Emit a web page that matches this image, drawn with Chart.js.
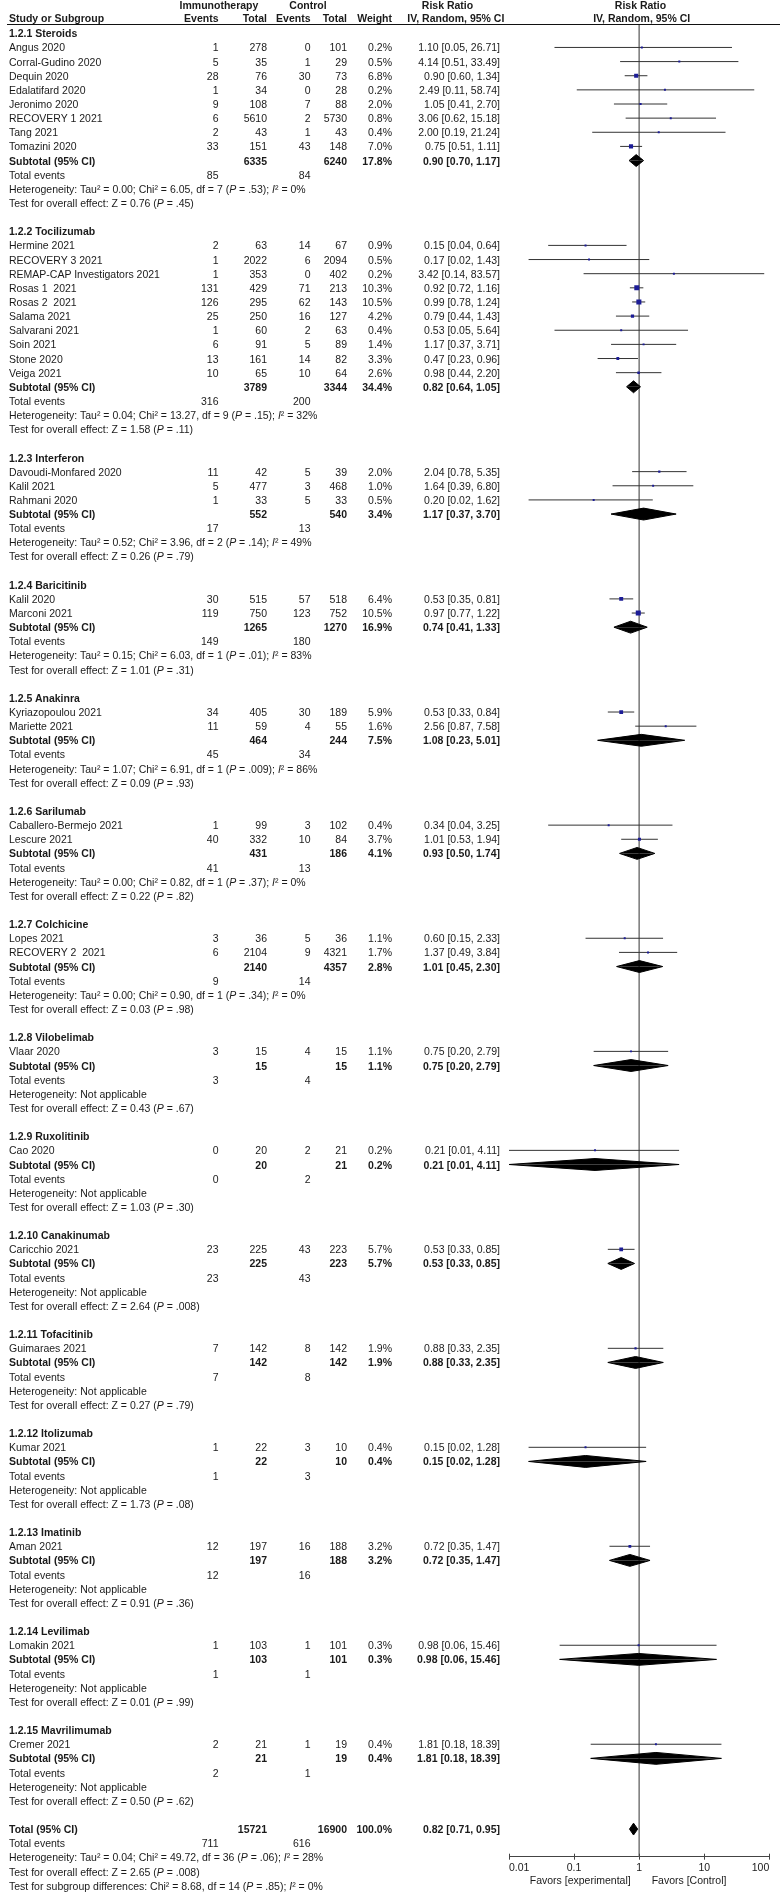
<!DOCTYPE html>
<html>
<head>
<meta charset="utf-8">
<script src="https://cdn.jsdelivr.net/npm/chart.js@4.4.1/dist/chart.umd.min.js"></script>
<style>
  body { margin: 0; background: #fff; }
  #wrap { position: relative; width: 780px; height: 1897px; overflow: hidden; }
  #plot { position: absolute; left: 0; top: 0; }
  .t { position: absolute; font: 10.5px/14px "Liberation Sans", Arial, sans-serif; color: #1a1a1a; white-space: pre; }
  .b { font-weight: bold; }
  #rule { position: absolute; left: 7px; top: 24px; width: 773px; height: 1px; background: #111; }
</style>
</head>
<body>
<div id="wrap">
  <canvas id="plot" width="780" height="1897"></canvas>
  <div id="rule"></div>
</div>
<script>
// groups
var groupNames = ['1.2.1 Steroids', '1.2.2 Tocilizumab', '1.2.3 Interferon', '1.2.4 Baricitinib', '1.2.5 Anakinra',
  '1.2.6 Sarilumab', '1.2.7 Colchicine', '1.2.8 Vilobelimab', '1.2.9 Ruxolitinib', '1.2.10 Canakinumab',
  '1.2.11 Tofacitinib', '1.2.12 Itolizumab', '1.2.13 Imatinib', '1.2.14 Levilimab', '1.2.15 Mavrilimumab'];

// studies
var studyNames = ['Angus 2020', 'Corral-Gudino 2020', 'Dequin 2020', 'Edalatifard 2020', 'Jeronimo 2020', 'RECOVERY 1 2021', 'Tang 2021', 'Tomazini 2020',
  'Hermine 2021', 'RECOVERY 3 2021', 'REMAP-CAP Investigators 2021', 'Rosas 1  2021', 'Rosas 2  2021', 'Salama 2021', 'Salvarani 2021', 'Soin 2021', 'Stone 2020', 'Veiga 2021',
  'Davoudi-Monfared 2020', 'Kalil 2021', 'Rahmani 2020',
  'Kalil 2020', 'Marconi 2021',
  'Kyriazopoulou 2021', 'Mariette 2021',
  'Caballero-Bermejo 2021', 'Lescure 2021',
  'Lopes 2021', 'RECOVERY 2  2021',
  'Vlaar 2020', 'Cao 2020', 'Caricchio 2021', 'Guimaraes 2021', 'Kumar 2021', 'Aman 2021', 'Lomakin 2021', 'Cremer 2021'];
var studyGroup = [0, 0, 0, 0, 0, 0, 0, 0, 1, 1, 1, 1, 1, 1, 1, 1, 1, 1, 2, 2, 2, 3, 3, 4, 4, 5, 5, 6, 6, 7, 8, 9, 10, 11, 12, 13, 14];
var expEvents = [1, 5, 28, 1, 9, 6, 2, 33, 2, 1, 1, 131, 126, 25, 1, 6, 13, 10, 11, 5, 1, 30, 119, 34, 11, 1, 40, 3, 6, 3, 0, 23, 7, 1, 12, 1, 2];
var expTotal = [278, 35, 76, 34, 108, 5610, 43, 151, 63, 2022, 353, 429, 295, 250, 60, 91, 161, 65, 42, 477, 33, 515, 750, 405, 59, 99, 332, 36, 2104, 15, 20, 225, 142, 22, 197, 103, 21];
var ctlEvents = [0, 1, 30, 0, 7, 2, 1, 43, 14, 6, 0, 71, 62, 16, 2, 5, 14, 10, 5, 3, 5, 57, 123, 30, 4, 3, 10, 5, 9, 4, 2, 43, 8, 3, 16, 1, 1];
var ctlTotal = [101, 29, 73, 28, 88, 5730, 43, 148, 67, 2094, 402, 213, 143, 127, 63, 89, 82, 64, 39, 468, 33, 518, 752, 189, 55, 102, 84, 36, 4321, 15, 21, 223, 142, 10, 188, 101, 19];
var weights = [0.2, 0.5, 6.8, 0.2, 2.0, 0.8, 0.4, 7.0, 0.9, 0.5, 0.2, 10.3, 10.5, 4.2, 0.4, 1.4, 3.3, 2.6, 2.0, 1.0, 0.5, 6.4, 10.5, 5.9, 1.6, 0.4, 3.7, 1.1, 1.7, 1.1, 0.2, 5.7, 1.9, 0.4, 3.2, 0.3, 0.4];
var rr = [1.10, 4.14, 0.90, 2.49, 1.05, 3.06, 2.00, 0.75, 0.15, 0.17, 3.42, 0.92, 0.99, 0.79, 0.53, 1.17, 0.47, 0.98, 2.04, 1.64, 0.20, 0.53, 0.97, 0.53, 2.56, 0.34, 1.01, 0.60, 1.37, 0.75, 0.21, 0.53, 0.88, 0.15, 0.72, 0.98, 1.81];
var rrLow = [0.05, 0.51, 0.60, 0.11, 0.41, 0.62, 0.19, 0.51, 0.04, 0.02, 0.14, 0.72, 0.78, 0.44, 0.05, 0.37, 0.23, 0.44, 0.78, 0.39, 0.02, 0.35, 0.77, 0.33, 0.87, 0.04, 0.53, 0.15, 0.49, 0.20, 0.01, 0.33, 0.33, 0.02, 0.35, 0.06, 0.18];
var rrHigh = [26.71, 33.49, 1.34, 58.74, 2.70, 15.18, 21.24, 1.11, 0.64, 1.43, 83.57, 1.16, 1.24, 1.43, 5.64, 3.71, 0.96, 2.20, 5.35, 6.80, 1.62, 0.81, 1.22, 0.84, 7.58, 3.25, 1.94, 2.33, 3.84, 2.79, 4.11, 0.85, 2.35, 1.28, 1.47, 15.46, 18.39];

// subtotals
var subExpTotal = [6335, 3789, 552, 1265, 464, 431, 2140, 15, 20, 225, 142, 22, 197, 103, 21];
var subCtlTotal = [6240, 3344, 540, 1270, 244, 186, 4357, 15, 21, 223, 142, 10, 188, 101, 19];
var subWeight = [17.8, 34.4, 3.4, 16.9, 7.5, 4.1, 2.8, 1.1, 0.2, 5.7, 1.9, 0.4, 3.2, 0.3, 0.4];
var subRR = [0.90, 0.82, 1.17, 0.74, 1.08, 0.93, 1.01, 0.75, 0.21, 0.53, 0.88, 0.15, 0.72, 0.98, 1.81];
var subLow = [0.70, 0.64, 0.37, 0.41, 0.23, 0.50, 0.45, 0.20, 0.01, 0.33, 0.33, 0.02, 0.35, 0.06, 0.18];
var subHigh = [1.17, 1.05, 3.70, 1.33, 5.01, 1.74, 2.30, 2.79, 4.11, 0.85, 2.35, 1.28, 1.47, 15.46, 18.39];
var subExpEvents = [85, 316, 17, 149, 45, 41, 9, 3, 0, 23, 7, 1, 12, 1, 2];
var subCtlEvents = [84, 200, 13, 180, 34, 13, 14, 4, 2, 43, 8, 3, 16, 1, 1];
var hetTau2 = [0.00, 0.04, 0.52, 0.15, 1.07, 0.00, 0.00, null, null, null, null, null, null, null, null];
var hetChi2 = [6.05, 13.27, 3.96, 6.03, 6.91, 0.82, 0.90];
var hetDf = [7, 9, 2, 1, 1, 1, 1];
var hetP = ['.53', '.15', '.14', '.01', '.009', '.37', '.34'];
var hetI2 = [0, 32, 49, 83, 86, 0, 0];
var zValue = [0.76, 1.58, 0.26, 1.01, 0.09, 0.22, 0.03, 0.43, 1.03, 2.64, 0.27, 1.73, 0.91, 0.01, 0.50];
var zP = ['.45', '.11', '.79', '.31', '.93', '.82', '.98', '.67', '.30', '.008', '.79', '.08', '.36', '.99', '.62'];

// overall
var totalExp = 15721, totalCtl = 16900, totalRR = 0.82, totalLow = 0.71, totalHigh = 0.95;
var totalExpEvents = 711, totalCtlEvents = 616;
var overallHet = 'Heterogeneity: Tau² = 0.04; Chi² = 49.72, df = 36 (<i>P</i> = .06); <i>I</i>² = 28%';
var overallZ = 'Test for overall effect: Z = 2.65 (<i>P</i> = .008)';
var subgroupDiff = 'Test for subgroup differences: Chi² = 8.68, df = 14 (<i>P</i> = .85); <i>I</i>² = 0%';

var xTicks = [0.01, 0.1, 1, 10, 100];

// layout
var TOP = 33.3, PITCH = 14.14;
var YMIN = (25 - TOP) / PITCH, YMAX = (1856.7 - TOP) / PITCH;
var col = { name: 9, expEv: 218.5, expTot: 267, ctlEv: 310.5, ctlTot: 347, weight: 392, ci: 500 };
var wrap = document.getElementById('wrap');

function put(x, y, html, align, bold) {
  var el = document.createElement('div');
  el.className = 't' + (bold ? ' b' : '');
  el.innerHTML = html;
  el.style.top = (y - 7) + 'px';
  if (align === 'r') el.style.right = (780 - x) + 'px';
  else if (align === 'c') { el.style.left = x + 'px'; el.style.transform = 'translateX(-50%)'; }
  else el.style.left = x + 'px';
  wrap.appendChild(el);
}
function ciText(a, l, h) { return a.toFixed(2) + ' [' + l.toFixed(2) + ', ' + h.toFixed(2) + ']'; }
function rowY(k) { return TOP + k * PITCH; }

// header
put(219, 5, 'Immunotherapy', 'c', true);
put(308, 5, 'Control', 'c', true);
put(447.5, 5, 'Risk Ratio', 'c', true);
put(640.5, 5, 'Risk Ratio', 'c', true);
put(col.name, 18.3, 'Study or Subgroup', 'l', true);
put(col.expEv, 18.3, 'Events', 'r', true);
put(col.expTot, 18.3, 'Total', 'r', true);
put(col.ctlEv, 18.3, 'Events', 'r', true);
put(col.ctlTot, 18.3, 'Total', 'r', true);
put(col.weight, 18.3, 'Weight', 'r', true);
put(455.8, 18.3, 'IV, Random, 95% CI', 'c', true);
put(641.7, 18.3, 'IV, Random, 95% CI', 'c', true);

var ciData = [], ptData = [], ptRadius = [], diamondSets = [];
var DH = 0.42;
function addDiamond(m, l, h, k) {
  [-DH, DH].forEach(function (d) {
    diamondSets.push({
      type: 'line', data: [{ x: l, y: k }, { x: m, y: k + d }, { x: h, y: k }],
      borderColor: '#000', borderWidth: 1, backgroundColor: '#000', fill: { value: k },
      pointRadius: 0, tension: 0, order: 1
    });
  });
}

var k = 0;
groupNames.forEach(function (g, gi) {
  put(col.name, rowY(k), g, 'l', true);
  k++;
  studyNames.forEach(function (s, i) {
    if (studyGroup[i] !== gi) return;
    var y = rowY(k);
    put(col.name, y, s, 'l');
    put(col.expEv, y, String(expEvents[i]), 'r');
    put(col.expTot, y, String(expTotal[i]), 'r');
    put(col.ctlEv, y, String(ctlEvents[i]), 'r');
    put(col.ctlTot, y, String(ctlTotal[i]), 'r');
    put(col.weight, y, weights[i].toFixed(1) + '%', 'r');
    put(col.ci, y, ciText(rr[i], rrLow[i], rrHigh[i]), 'r');
    ciData.push({ x: rrLow[i], y: k }, { x: rrHigh[i], y: k }, { x: rrHigh[i], y: null });
    ptData.push({ x: rr[i], y: k });
    ptRadius.push(Math.max(1.4, 1.1 * Math.sqrt(weights[i])));
    k++;
  });
  var y = rowY(k);
  put(col.name, y, 'Subtotal (95% CI)', 'l', true);
  put(col.expTot, y, String(subExpTotal[gi]), 'r', true);
  put(col.ctlTot, y, String(subCtlTotal[gi]), 'r', true);
  put(col.weight, y, subWeight[gi].toFixed(1) + '%', 'r', true);
  put(col.ci, y, ciText(subRR[gi], subLow[gi], subHigh[gi]), 'r', true);
  addDiamond(subRR[gi], subLow[gi], subHigh[gi], k);
  k++;
  y = rowY(k);
  put(col.name, y, 'Total events', 'l');
  put(col.expEv, y, String(subExpEvents[gi]), 'r');
  put(col.ctlEv, y, String(subCtlEvents[gi]), 'r');
  k++;
  var het = hetTau2[gi] === null ? 'Heterogeneity: Not applicable' :
    'Heterogeneity: Tau² = ' + hetTau2[gi].toFixed(2) + '; Chi² = ' + hetChi2[gi].toFixed(2) + ', df = ' + hetDf[gi] +
    ' (<i>P</i> = ' + hetP[gi] + '); <i>I</i>² = ' + hetI2[gi] + '%';
  put(col.name, rowY(k), het, 'l');
  k++;
  put(col.name, rowY(k), 'Test for overall effect: Z = ' + zValue[gi].toFixed(2) + ' (<i>P</i> = ' + zP[gi] + ')', 'l');
  k += 2;
});

var y = rowY(k);
put(col.name, y, 'Total (95% CI)', 'l', true);
put(col.expTot, y, String(totalExp), 'r', true);
put(col.ctlTot, y, String(totalCtl), 'r', true);
put(col.weight, y, '100.0%', 'r', true);
put(col.ci, y, ciText(totalRR, totalLow, totalHigh), 'r', true);
addDiamond(totalRR, totalLow, totalHigh, k);
k++;
y = rowY(k);
put(col.name, y, 'Total events', 'l');
put(col.expEv, y, String(totalExpEvents), 'r');
put(col.ctlEv, y, String(totalCtlEvents), 'r');
put(col.name, rowY(k + 1), overallHet, 'l');
put(col.name, rowY(k + 2), overallZ, 'l');
put(col.name, rowY(k + 3), subgroupDiff, 'l');
put(630.7, 1879.5, 'Favors [experimental]', 'r');
put(651.7, 1879.5, 'Favors [Control]', 'l');

// small ticks above the axis line
var upTicks = {
  id: 'upTicks',
  afterDraw: function (chart) {
    var s = chart.scales.x, ctx = chart.ctx;
    ctx.save();
    ctx.strokeStyle = '#444';
    ctx.lineWidth = 1;
    xTicks.forEach(function (v) {
      var px = Math.round(s.getPixelForValue(v)) + 0.5;
      ctx.beginPath();
      ctx.moveTo(px, s.top - 3);
      ctx.lineTo(px, s.top);
      ctx.stroke();
    });
    ctx.restore();
  }
};

Chart.defaults.font.family = '"Liberation Sans", Arial, sans-serif';
Chart.defaults.font.size = 10.5;
Chart.defaults.color = '#1a1a1a';

var datasets = [
  { type: 'scatter', data: ptData, pointStyle: 'rect', pointRadius: ptRadius, pointHoverRadius: ptRadius,
    backgroundColor: '#1c1c96', borderWidth: 0, order: 0 },
  { type: 'line', data: ciData, borderColor: '#333', borderWidth: 1, pointRadius: 0, spanGaps: false, tension: 0, order: 2 },
  { type: 'line', data: [{ x: 1, y: YMIN }, { x: 1, y: YMAX }], borderColor: '#777', borderWidth: 1.5, pointRadius: 0, order: 3 }
].concat(diamondSets);

new Chart(document.getElementById('plot'), {
  type: 'scatter',
  data: { datasets: datasets },
  options: {
    responsive: false,
    animation: false,
    devicePixelRatio: 1,
    events: [],
    layout: { padding: { left: 509, right: 10.7, top: 25, bottom: 20.3 } },
    plugins: { legend: { display: false }, tooltip: { enabled: false } },
    scales: {
      x: {
        type: 'logarithmic', min: 0.01, max: 100,
        afterBuildTicks: function (s) { s.ticks = xTicks.map(function (v) { return { value: v, major: true }; }); },
        afterFit: function (s) { s.height = 20; },
        ticks: { callback: function (v) { return String(v); }, align: 'inner', autoSkip: false, maxRotation: 0, padding: 2 },
        grid: { drawOnChartArea: false, tickLength: 3, color: '#444' },
        border: { color: '#444', width: 1 }
      },
      y: { type: 'linear', display: false, reverse: true, min: YMIN, max: YMAX }
    }
  },
  plugins: [upTicks]
});
</script>
</body>
</html>
